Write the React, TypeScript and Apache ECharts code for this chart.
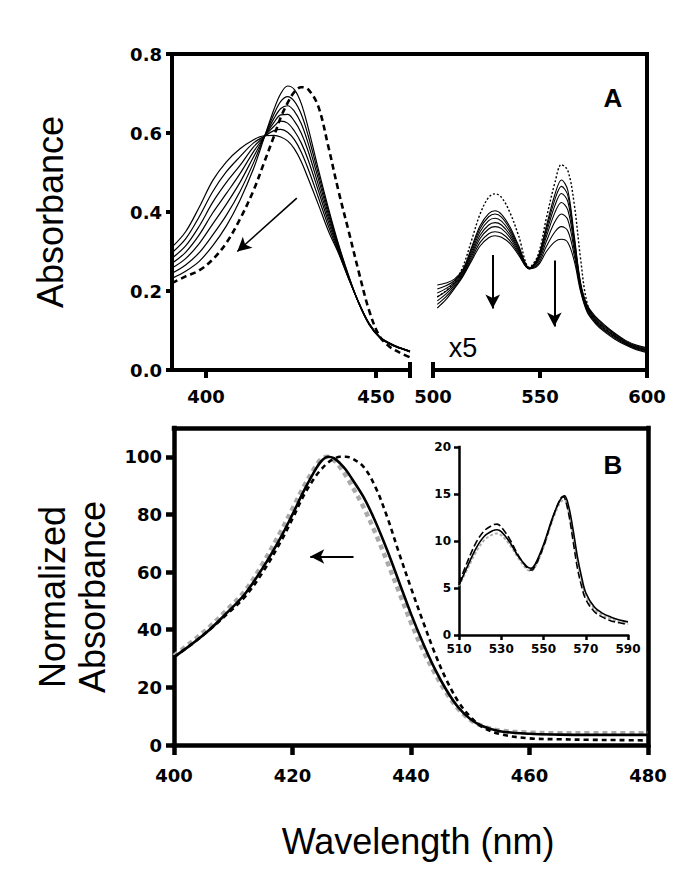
import React, { useEffect, useRef } from "react";
import * as echarts from "echarts";

// ---------- Panel A, Soret region (390-460 nm) ----------
const WL_SORET = [390, 394, 398, 402, 406, 410, 414, 417, 420, 422, 424, 426, 428, 430, 433, 436, 439, 442, 445, 448, 451, 454, 457, 460];
const SORET_INITIAL = [0.220, 0.237, 0.252, 0.280, 0.322, 0.382, 0.455, 0.523, 0.592, 0.640, 0.676, 0.704, 0.716, 0.711, 0.668, 0.565, 0.452, 0.350, 0.246, 0.150, 0.086, 0.059, 0.044, 0.032];
const SORET_T1 = [0.232, 0.250, 0.275, 0.315, 0.365, 0.430, 0.510, 0.585, 0.660, 0.700, 0.719, 0.710, 0.675, 0.615, 0.510, 0.410, 0.318, 0.238, 0.168, 0.115, 0.083, 0.066, 0.055, 0.046];
const SORET_T2 = [0.245, 0.266, 0.297, 0.342, 0.392, 0.452, 0.525, 0.587, 0.648, 0.680, 0.692, 0.680, 0.648, 0.595, 0.498, 0.402, 0.314, 0.236, 0.168, 0.115, 0.083, 0.066, 0.055, 0.046];
const SORET_T3 = [0.258, 0.282, 0.320, 0.370, 0.420, 0.475, 0.540, 0.588, 0.637, 0.662, 0.669, 0.655, 0.624, 0.575, 0.485, 0.394, 0.310, 0.234, 0.168, 0.116, 0.084, 0.067, 0.056, 0.047];
const SORET_T4 = [0.270, 0.298, 0.342, 0.398, 0.447, 0.497, 0.553, 0.589, 0.627, 0.646, 0.647, 0.630, 0.600, 0.555, 0.470, 0.385, 0.306, 0.233, 0.168, 0.116, 0.084, 0.067, 0.056, 0.047];
const SORET_T5 = [0.283, 0.314, 0.364, 0.425, 0.475, 0.518, 0.565, 0.590, 0.617, 0.630, 0.625, 0.605, 0.575, 0.533, 0.455, 0.375, 0.302, 0.232, 0.169, 0.117, 0.084, 0.067, 0.056, 0.047];
const SORET_T6 = [0.297, 0.332, 0.388, 0.452, 0.502, 0.540, 0.575, 0.591, 0.606, 0.609, 0.602, 0.583, 0.552, 0.510, 0.438, 0.364, 0.298, 0.231, 0.169, 0.117, 0.085, 0.068, 0.056, 0.048];
const SORET_T7 = [0.311, 0.350, 0.412, 0.480, 0.527, 0.560, 0.583, 0.593, 0.594, 0.590, 0.580, 0.560, 0.528, 0.486, 0.420, 0.352, 0.295, 0.230, 0.170, 0.118, 0.085, 0.068, 0.057, 0.048];

// ---------- Panel A, Q-band region (500-600 nm, x5) ----------
const WL_Q = [502, 506, 510, 514, 518, 522, 526, 529, 532, 536, 540, 545, 549, 553, 557, 560, 563, 566, 569, 572, 576, 580, 585, 590, 595, 600];
const Q_INITIAL = [0.185, 0.200, 0.222, 0.262, 0.328, 0.395, 0.437, 0.446, 0.437, 0.398, 0.340, 0.260, 0.290, 0.385, 0.475, 0.520, 0.505, 0.420, 0.280, 0.170, 0.125, 0.105, 0.085, 0.068, 0.057, 0.050];
const Q_T1 = [0.215, 0.220, 0.230, 0.255, 0.310, 0.365, 0.396, 0.403, 0.394, 0.362, 0.315, 0.258, 0.285, 0.365, 0.445, 0.481, 0.455, 0.340, 0.220, 0.165, 0.135, 0.115, 0.093, 0.075, 0.063, 0.056];
const Q_T2 = [0.205, 0.213, 0.226, 0.252, 0.305, 0.358, 0.388, 0.395, 0.387, 0.356, 0.311, 0.258, 0.283, 0.357, 0.432, 0.465, 0.442, 0.333, 0.217, 0.162, 0.132, 0.112, 0.091, 0.073, 0.061, 0.054];
const Q_T3 = [0.195, 0.206, 0.222, 0.249, 0.299, 0.350, 0.378, 0.384, 0.377, 0.349, 0.307, 0.258, 0.280, 0.348, 0.417, 0.447, 0.426, 0.325, 0.214, 0.159, 0.129, 0.109, 0.089, 0.071, 0.059, 0.052];
const Q_T4 = [0.185, 0.199, 0.218, 0.246, 0.293, 0.341, 0.367, 0.373, 0.367, 0.342, 0.303, 0.257, 0.277, 0.338, 0.399, 0.424, 0.405, 0.315, 0.210, 0.156, 0.126, 0.106, 0.086, 0.069, 0.057, 0.050];
const Q_T5 = [0.175, 0.192, 0.214, 0.243, 0.287, 0.333, 0.357, 0.363, 0.358, 0.335, 0.299, 0.257, 0.273, 0.326, 0.376, 0.395, 0.380, 0.303, 0.206, 0.153, 0.123, 0.103, 0.084, 0.067, 0.055, 0.048];
const Q_T6 = [0.166, 0.185, 0.210, 0.240, 0.281, 0.323, 0.345, 0.350, 0.346, 0.327, 0.295, 0.256, 0.268, 0.313, 0.350, 0.363, 0.352, 0.290, 0.202, 0.150, 0.120, 0.100, 0.081, 0.065, 0.053, 0.046];
const Q_T7 = [0.157, 0.178, 0.206, 0.237, 0.276, 0.314, 0.335, 0.340, 0.336, 0.320, 0.291, 0.256, 0.264, 0.300, 0.325, 0.331, 0.323, 0.276, 0.198, 0.147, 0.117, 0.097, 0.078, 0.063, 0.051, 0.044];

// ---------- Panel B, normalized Soret ----------
const WL_NORM = [400, 403, 406, 409, 412, 415, 418, 420, 422, 424, 425, 426, 427, 428, 429, 430, 432, 434, 436, 438, 440, 442, 444, 446, 448, 450, 452, 455, 460, 465, 470, 475, 480];
const NORM_SOLID = [30.5, 35, 40, 46, 52.5, 61.5, 72, 80, 88.5, 96, 98.8, 100, 99.5, 97.8, 95.5, 92.5, 86, 77.5, 67.5, 56.5, 45.5, 35.5, 26.5, 19, 13, 9, 6.6, 4.8, 3.9, 3.6, 3.5, 3.5, 3.5];
const NORM_GRAY = [31, 35.8, 41, 47, 53.5, 63, 74, 82, 90, 97, 99.5, 100, 98.8, 96.5, 93.5, 90, 82.5, 73.5, 63.5, 53, 42.5, 33, 25, 18, 12.5, 8.8, 6.6, 5, 4.3, 4.1, 4.1, 4.1, 4.1];
const NORM_DASHED = [30.5, 35, 40, 45.5, 51.5, 60, 70.5, 78.5, 87, 93.5, 96, 98, 99.3, 100, 100, 99.5, 96.5, 89.5, 79, 66.5, 54.5, 43, 32, 22.5, 15, 9.8, 6.3, 3.8, 2.3, 2, 1.8, 1.7, 1.6];

// ---------- Panel B inset, Q bands ----------
const WL_INSET = [510, 514, 518, 522, 526, 528, 530, 534, 538, 542, 544, 546, 550, 554, 557, 559, 560, 562, 564, 566, 568, 570, 574, 578, 582, 586, 590];
const INSET_SOLID = [5.3, 7.3, 9.2, 10.5, 11.1, 11.2, 11.0, 9.9, 8.4, 7.3, 7.1, 7.5, 9.6, 12.3, 14.0, 14.7, 14.8, 13.6, 11.2, 8.4, 6.2, 4.5, 3.0, 2.3, 1.9, 1.6, 1.4];
const INSET_DASHED = [5.5, 7.8, 9.8, 11.1, 11.7, 11.8, 11.5, 10.2, 8.5, 7.2, 6.9, 7.3, 9.4, 12.2, 14.0, 14.7, 14.6, 12.8, 10.0, 7.2, 5.2, 3.8, 2.5, 1.9, 1.5, 1.3, 1.1];
const INSET_GRAY = [5.2, 7.0, 8.8, 10.1, 10.7, 10.8, 10.6, 9.6, 8.2, 7.0, 6.8, 7.2, 9.3, 12.0, 13.7, 14.3, 14.3, 13.0, 10.5, 7.8, 5.8, 4.2, 2.8, 2.1, 1.7, 1.4, 1.2];

// ---------- Ticks ----------
const SORET_X_TICKS = [400, 450];
const NORM_Y_TICKS = [0, 20, 40, 60, 80, 100];

// Arrows (data coordinates)
const ARROW_SORET = [[426.7, 0.435], [409.2, 0.30]];
const ARROW_Q1 = [[527.9, 0.291], [527.9, 0.156]];
const ARROW_Q2 = [[556.7, 0.277], [556.7, 0.110]];
const ARROW_NORM = [[430.3, 65.4], [423.0, 65.4]];

const zip = (xs: number[], ys: number[]) => xs.map((x, i) => [x, ys[i]]);

const TICK_FONT = { fontFamily: "DejaVu Sans", fontWeight: "bold" as const, color: "#000" };

function arrowLine(pts: number[][], width = 1.8) {
  return {
    silent: true,
    symbol: ["none", "arrow"],
    symbolSize: [11, 14],
    label: { show: false },
    lineStyle: { color: "#000", width, type: "solid" },
    itemStyle: { color: "#000" },
    emphasis: { disabled: true },
    data: [[{ coord: pts[0] }, { coord: pts[1] }]],
  };
}

export default function App() {
  const ref = useRef<HTMLDivElement>(null);

  useEffect(() => {
    document.body.style.margin = "0";
    if (!ref.current) return;
    const chart = echarts.init(ref.current, null, { renderer: "svg" });

    const axLine = (w: number) => ({ show: true, onZero: false, lineStyle: { color: "#000", width: w, cap: "square" } });
    const tick = (len: number, w: number) => ({ show: true, length: len, inside: false, lineStyle: { color: "#000", width: w } });
    const noSplit = { show: false };

    const soretSolids = [SORET_T1, SORET_T2, SORET_T3, SORET_T4, SORET_T5, SORET_T6, SORET_T7];
    const qSolids = [Q_T1, Q_T2, Q_T3, Q_T4, Q_T5, Q_T6, Q_T7];

    const series: any[] = [];
    soretSolids.forEach((arr) =>
      series.push({
        type: "line", xAxisIndex: 0, yAxisIndex: 0, data: zip(WL_SORET, arr),
        showSymbol: false, smooth: 0.35, lineStyle: { color: "#000", width: 1.2 }, silent: true,
      })
    );
    series.push({
      type: "line", xAxisIndex: 0, yAxisIndex: 0, data: zip(WL_SORET, SORET_INITIAL),
      showSymbol: false, smooth: 0.35, lineStyle: { color: "#000", width: 2.6, type: [6, 4] }, silent: true,
      markLine: arrowLine(ARROW_SORET, 1.6),
    });
    qSolids.forEach((arr) =>
      series.push({
        type: "line", xAxisIndex: 1, yAxisIndex: 1, data: zip(WL_Q, arr),
        showSymbol: false, smooth: 0.35, lineStyle: { color: "#000", width: 1.1 }, silent: true,
      })
    );
    series.push({
      type: "line", xAxisIndex: 1, yAxisIndex: 1, data: zip(WL_Q, Q_INITIAL),
      showSymbol: false, smooth: 0.35, lineStyle: { color: "#000", width: 1.4, type: [2, 2] }, silent: true,
      markLine: { ...arrowLine(ARROW_Q1, 2), data: [[{ coord: ARROW_Q1[0] }, { coord: ARROW_Q1[1] }], [{ coord: ARROW_Q2[0] }, { coord: ARROW_Q2[1] }]] },
    });
    // Panel B
    series.push({
      type: "line", xAxisIndex: 3, yAxisIndex: 3, data: zip(WL_NORM, NORM_GRAY),
      showSymbol: false, smooth: 0.35, lineStyle: { color: "#aaaaaa", width: 4.5, type: [5, 4] }, silent: true,
    });
    series.push({
      type: "line", xAxisIndex: 3, yAxisIndex: 3, data: zip(WL_NORM, NORM_SOLID),
      showSymbol: false, smooth: 0.35, lineStyle: { color: "#000", width: 2.6 }, silent: true,
      markLine: arrowLine(ARROW_NORM, 2.2),
    });
    series.push({
      type: "line", xAxisIndex: 3, yAxisIndex: 3, data: zip(WL_NORM, NORM_DASHED),
      showSymbol: false, smooth: 0.35, lineStyle: { color: "#000", width: 2.6, type: [5, 4] }, silent: true,
    });
    // Inset
    series.push({
      type: "line", xAxisIndex: 4, yAxisIndex: 4, data: zip(WL_INSET, INSET_GRAY),
      showSymbol: false, smooth: 0.35, lineStyle: { color: "#aaaaaa", width: 1.8, type: [3, 2] }, silent: true,
    });
    series.push({
      type: "line", xAxisIndex: 4, yAxisIndex: 4, data: zip(WL_INSET, INSET_SOLID),
      showSymbol: false, smooth: 0.35, lineStyle: { color: "#000", width: 1.6 }, silent: true,
    });
    series.push({
      type: "line", xAxisIndex: 4, yAxisIndex: 4, data: zip(WL_INSET, INSET_DASHED),
      showSymbol: false, smooth: 0.35, lineStyle: { color: "#000", width: 1.6, type: [7, 3] }, silent: true,
    });

    const option: any = {
      animation: false,
      backgroundColor: "#ffffff",
      grid: [
        { left: 172, top: 54, width: 238, height: 316 },
        { left: 433, top: 54, width: 214, height: 316 },
        { left: 172, top: 54, width: 475, height: 316 },
        { left: 174, top: 428, width: 474, height: 317 },
        { left: 459, top: 447, width: 169, height: 188 },
      ],
      xAxis: [
        {
          gridIndex: 0, type: "value", min: 390, max: 460, axisLine: axLine(4),
          axisTick: { ...tick(8, 4), customValues: SORET_X_TICKS },
          axisLabel: { ...TICK_FONT, fontSize: 18, margin: 17, customValues: SORET_X_TICKS },
          splitLine: noSplit,
        },
        {
          gridIndex: 1, type: "value", min: 500, max: 600, interval: 50, axisLine: axLine(4),
          axisTick: tick(8, 4), axisLabel: { ...TICK_FONT, fontSize: 18, margin: 17 }, splitLine: noSplit,
        },
        {
          gridIndex: 2, type: "value", position: "top", min: 0, max: 1, axisLine: axLine(4),
          axisTick: { show: false }, axisLabel: { show: false }, splitLine: noSplit,
        },
        {
          gridIndex: 3, type: "value", min: 400, max: 480, interval: 20, axisLine: axLine(4.5),
          axisTick: tick(10, 4.5), axisLabel: { ...TICK_FONT, fontSize: 18, margin: 21 }, splitLine: noSplit,
        },
        {
          gridIndex: 4, type: "value", min: 510, max: 590, interval: 20, axisLine: axLine(2.5),
          axisTick: tick(5, 2.5), axisLabel: { ...TICK_FONT, fontSize: 12, margin: 8 }, splitLine: noSplit,
        },
        {
          gridIndex: 3, type: "value", position: "top", min: 0, max: 1, axisLine: axLine(4.5),
          axisTick: { show: false }, axisLabel: { show: false }, splitLine: noSplit,
        },
      ],
      yAxis: [
        {
          gridIndex: 0, type: "value", min: 0, max: 0.8, interval: 0.2, axisLine: axLine(4),
          axisTick: tick(6, 4),
          axisLabel: { ...TICK_FONT, fontSize: 18, margin: 10, formatter: (v: number) => v.toFixed(1) },
          splitLine: noSplit,
        },
        {
          gridIndex: 1, type: "value", position: "right", min: 0, max: 0.8, axisLine: axLine(4),
          axisTick: { show: false }, axisLabel: { show: false }, splitLine: noSplit,
        },
        {
          gridIndex: 2, type: "value", show: false, min: 0, max: 1, splitLine: noSplit,
        },
        {
          gridIndex: 3, type: "value", min: 0, max: 110, axisLine: axLine(4.5),
          axisTick: { ...tick(8, 4.5), customValues: NORM_Y_TICKS },
          axisLabel: { ...TICK_FONT, fontSize: 18, margin: 12, customValues: NORM_Y_TICKS },
          splitLine: noSplit,
        },
        {
          gridIndex: 4, type: "value", min: 0, max: 20, interval: 5, axisLine: axLine(2.5),
          axisTick: tick(5, 2.5), axisLabel: { ...TICK_FONT, fontSize: 12, margin: 8 }, splitLine: noSplit,
        },
        {
          gridIndex: 3, type: "value", position: "right", min: 0, max: 1, axisLine: axLine(4.5),
          axisTick: { show: false }, axisLabel: { show: false }, splitLine: noSplit,
        },
      ],
      graphic: [
        // axis break caps
        { type: "line", shape: { x1: 410, y1: 362, x2: 410, y2: 378 }, style: { stroke: "#000", lineWidth: 4 } },
        { type: "line", shape: { x1: 433, y1: 362, x2: 433, y2: 378 }, style: { stroke: "#000", lineWidth: 4 } },
        {
          type: "text", x: 50, y: 212, rotation: Math.PI / 2,
          style: { text: "Absorbance", font: '36px "Liberation Sans", Arial, sans-serif', fill: "#000", align: "center", verticalAlign: "middle", textAlign: "center", textVerticalAlign: "middle" },
        },
        {
          type: "text", x: 52, y: 597, rotation: Math.PI / 2,
          style: { text: "Normalized", font: '36px "Liberation Sans", Arial, sans-serif', fill: "#000", align: "center", verticalAlign: "middle", textAlign: "center", textVerticalAlign: "middle" },
        },
        {
          type: "text", x: 92, y: 597, rotation: Math.PI / 2,
          style: { text: "Absorbance", font: '36px "Liberation Sans", Arial, sans-serif', fill: "#000", align: "center", verticalAlign: "middle", textAlign: "center", textVerticalAlign: "middle" },
        },
        {
          type: "text", x: 418, y: 841,
          style: { text: "Wavelength (nm)", font: '36px "Liberation Sans", Arial, sans-serif', fill: "#000", align: "center", verticalAlign: "middle", textAlign: "center", textVerticalAlign: "middle" },
        },
        {
          type: "text", x: 613, y: 98,
          style: { text: "A", font: 'bold 26px "Liberation Sans", Arial, sans-serif', fill: "#000", align: "center", verticalAlign: "middle", textAlign: "center", textVerticalAlign: "middle" },
        },
        {
          type: "text", x: 613, y: 465,
          style: { text: "B", font: 'bold 26px "Liberation Sans", Arial, sans-serif', fill: "#000", align: "center", verticalAlign: "middle", textAlign: "center", textVerticalAlign: "middle" },
        },
        {
          type: "text", x: 463, y: 348,
          style: { text: "x5", font: '27px "Liberation Sans", Arial, sans-serif', fill: "#000", align: "center", verticalAlign: "middle", textAlign: "center", textVerticalAlign: "middle" },
        },
      ],
      series,
    };

    chart.setOption(option);
    return () => chart.dispose();
  }, []);

  return <div ref={ref} style={{ width: 685, height: 881 }} />;
}
